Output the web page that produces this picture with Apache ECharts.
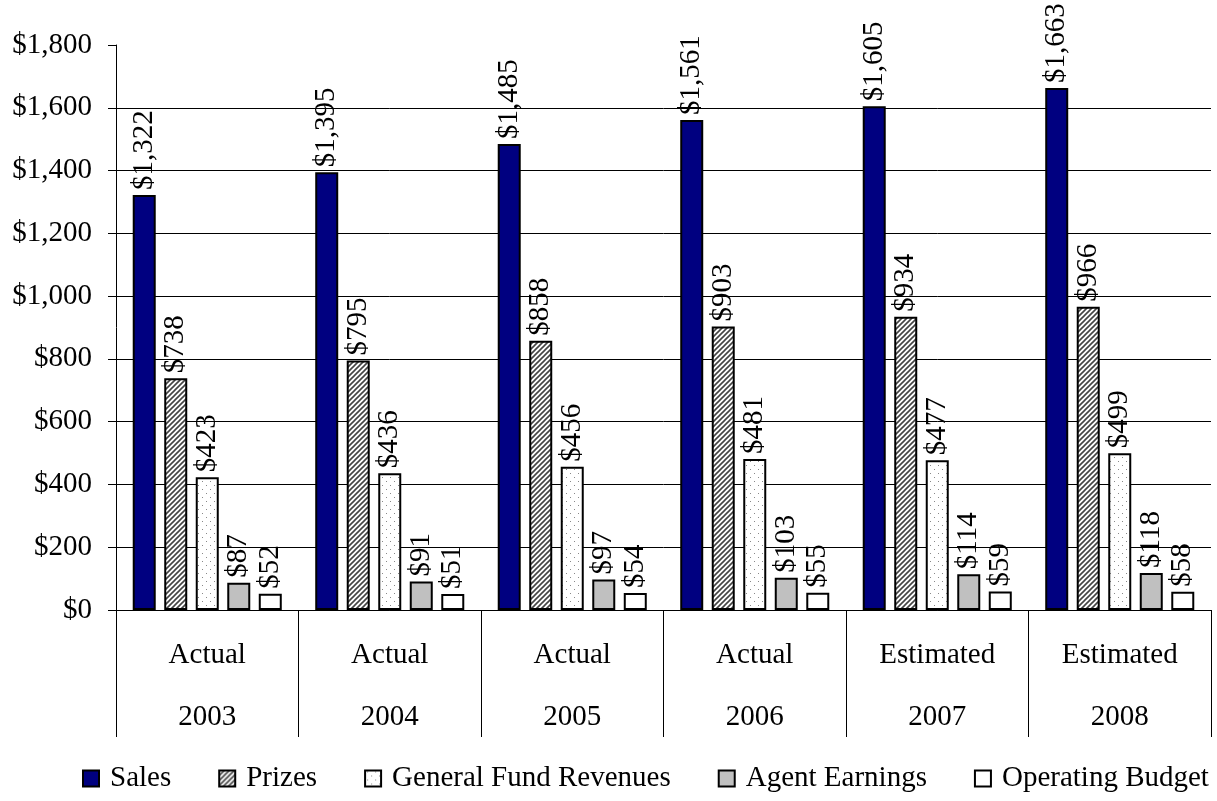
<!DOCTYPE html>
<html>
<head>
<meta charset="utf-8">
<script src="https://cdn.jsdelivr.net/npm/echarts@6/dist/echarts.min.js"></script>
<style>
  html, body { margin: 0; padding: 0; background: #fff; }
  #chart { width: 1217px; height: 801px; }
</style>
</head>
<body>
<div id="chart"></div>
<script>
// Lottery revenue by year, in millions of dollars
const statusLabels = ['Actual', 'Actual', 'Actual', 'Actual', 'Estimated', 'Estimated'];
const years = ['2003', '2004', '2005', '2006', '2007', '2008'];
const sales = [1322, 1395, 1485, 1561, 1605, 1663];
const prizes = [738, 795, 858, 903, 934, 966];
const generalFund = [423, 436, 456, 481, 477, 499];
const agentEarnings = [87, 91, 97, 103, 114, 118];
const operatingBudget = [52, 51, 54, 55, 59, 58];
const yTicks = [0, 200, 400, 600, 800, 1000, 1200, 1400, 1600, 1800];

const FONT = "'Liberation Serif', 'Times New Roman', serif";

// Diagonal hatch fill
function hatchPattern() {
  const c = document.createElement('canvas');
  c.width = 5; c.height = 5;
  const g = c.getContext('2d');
  g.fillStyle = '#fff';
  g.fillRect(0, 0, 5, 5);
  g.strokeStyle = '#444';
  g.lineWidth = 1.6;
  g.beginPath();
  g.moveTo(-1, 6); g.lineTo(6, -1);
  g.moveTo(-4, 4); g.lineTo(4, -4);
  g.moveTo(1, 9); g.lineTo(9, 1);
  g.stroke();
  return { image: c, repeat: 'repeat' };
}

// Sparse dot fill
function dotPattern() {
  const c = document.createElement('canvas');
  c.width = 8; c.height = 8;
  const g = c.getContext('2d');
  g.fillStyle = '#fff';
  g.fillRect(0, 0, 8, 8);
  g.fillStyle = '#888';
  g.fillRect(2, 1, 1, 1);
  g.fillRect(6, 5, 1, 1);
  return { image: c, repeat: 'repeat' };
}

const money = v => '$' + Number(v).toLocaleString('en-US');

const labelCfg = {
  show: true,
  position: 'top',
  rotate: 90,
  align: 'left',
  verticalAlign: 'middle',
  distance: 5,
  color: '#000',
  fontFamily: FONT,
  fontSize: 29,
  formatter: p => money(p.value)
};

function barSeries(name, data, fill) {
  return {
    name: name,
    type: 'bar',
    data: data,
    barWidth: 23,
    barGap: '37%',
    itemStyle: { color: fill, borderColor: '#000', borderWidth: 2 },
    label: labelCfg,
    emphasis: { disabled: true }
  };
}

// Hide the gridline at the top of the value range
const gridColors = yTicks.map((t, i) => i === yTicks.length - 1 ? 'rgba(0,0,0,0)' : '#000');

const chart = echarts.init(document.getElementById('chart'), null, { renderer: 'canvas' });
chart.setOption({
  animation: false,
  backgroundColor: '#fff',
  textStyle: { fontFamily: FONT },
  grid: { left: 116, right: 6, top: 45, bottom: 191, containLabel: false },
  legend: {
    bottom: 3,
    left: 77,
    width: 1200,
    orient: 'horizontal',
    itemWidth: 16,
    itemHeight: 16,
    itemGap: 47,
    icon: 'rect',
    textStyle: { fontFamily: FONT, fontSize: 29, color: '#000', padding: [0, 0, 0, 6] },
    data: ['Sales', 'Prizes', 'General Fund Revenues', 'Agent Earnings', 'Operating Budget']
  },
  xAxis: [
    {
      type: 'category',
      data: statusLabels,
      position: 'bottom',
      axisLine: { show: true, lineStyle: { color: '#000', width: 1 } },
      axisTick: { show: true, alignWithLabel: false, interval: 0, length: 127, lineStyle: { color: '#000', width: 1 } },
      axisLabel: { interval: 0, margin: 31, color: '#000', fontFamily: FONT, fontSize: 29 },
      splitLine: { show: false }
    },
    {
      type: 'category',
      data: years,
      position: 'bottom',
      axisLine: { show: false },
      axisTick: { show: false },
      axisLabel: { interval: 0, margin: 93, color: '#000', fontFamily: FONT, fontSize: 29 },
      splitLine: { show: false }
    }
  ],
  yAxis: {
    type: 'value',
    min: 0,
    max: 1800,
    interval: 200,
    axisLine: { show: true, lineStyle: { color: '#000', width: 1 } },
    axisTick: { show: true, length: 8, lineStyle: { color: '#000', width: 1 } },
    axisLabel: { margin: 24, color: '#000', fontFamily: FONT, fontSize: 29, formatter: v => money(v) },
    splitLine: { show: true, lineStyle: { color: gridColors, width: 1 } }
  },
  series: [
    barSeries('Sales', sales, '#000080'),
    barSeries('Prizes', prizes, hatchPattern()),
    barSeries('General Fund Revenues', generalFund, dotPattern()),
    barSeries('Agent Earnings', agentEarnings, '#c0c0c0'),
    barSeries('Operating Budget', operatingBudget, '#fff')
  ]
});
</script>
</body>
</html>
